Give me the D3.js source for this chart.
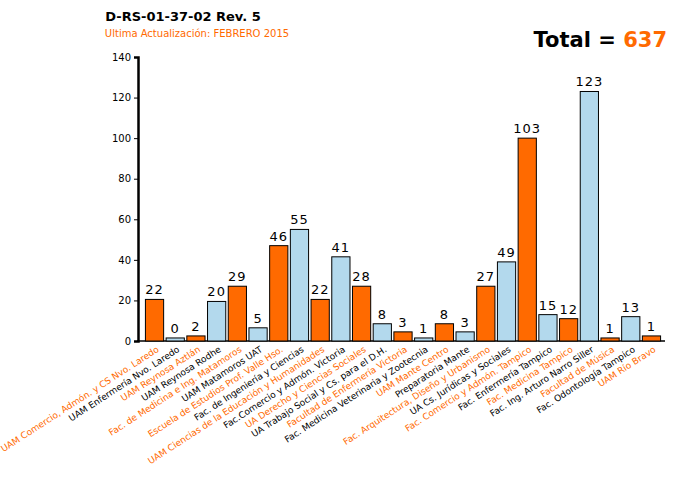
<!DOCTYPE html>
<html><head><meta charset="utf-8">
<script src="https://cdn.jsdelivr.net/npm/d3@7"></script>
<style>body{margin:0;background:#fff;font-family:"DejaVu Sans",sans-serif}</style>
</head><body><svg id="c" width="697" height="491"></svg>
<script>
var categories = ["UAM Comercio, Admón. y CS Nvo. Laredo","UAM Enfermería Nvo. Laredo","UAM Reynosa Aztlán","UAM Reynosa Rodhe","Fac. de Medicina e Ing. Matamoros","UAM Matamoros UAT","Escuela de Estudios Prof. Valle Hso.","Fac. de Ingeniería y Ciencias","UAM Ciencias de la Educación y Humanidades","Fac.Comercio y Admón. Victoria","UA Derecho y Ciencias Sociales","UA Trabajo Social y Cs. para el D.H.","Facultad de Enfermería Victoria","Fac. Medicina Veterinaria y Zootecnia","UAM Mante Centro","Preparatoria Mante","Fac. Arquitectura, Diseño y Urbanismo","UA Cs. Jurídicas y Sociales","Fac. Comercio y Admón. Tampico","Fac. Enfermería Tampico","Fac. Medicina Tampico","Fac. Ing. Arturo Narro Siller","Facultad de Música","Fac. Odontología Tampico","UAM Río Bravo"];
var barValues = [20.5,1.5,2.5,19.5,27,6.5,47,55,20.5,41.5,27,8.5,4.5,1.5,8.5,4.5,27,39,100,13,11,123,1.5,12,2.5];
var labelValues = [22,0,2,20,29,5,46,55,22,41,28,8,3,1,8,3,27,49,103,15,12,123,1,13,1];
var yTicks = [0,20,40,60,80,100,120,140];
var orange = "#ff6a00", blue = "#b3d9ed";

var svg = d3.select("#c");
var x = d3.scaleBand().domain(categories).range([145,661]).paddingInner(0.12).paddingOuter(0.02);
var y = d3.scaleLinear().domain([0,140]).range([341,57]);

svg.append("text").attr("x",183).attr("y",21).attr("text-anchor","middle")
  .style("font-size","13px").style("font-weight","bold").text("D-RS-01-37-02 Rev. 5");
svg.append("text").attr("x",197).attr("y",37).attr("text-anchor","middle")
  .style("font-size","10px").style("fill",orange).text("Ultima Actualización: FEBRERO 2015");
var t = svg.append("text").attr("x",667).attr("y",47).attr("text-anchor","end")
  .style("font-size","21px").style("font-weight","bold");
t.append("tspan").text("Total = ");
t.append("tspan").style("fill",orange).text("637");

var ya = svg.append("g").attr("transform","translate(138,0)")
  .call(d3.axisLeft(y).tickValues(yTicks).tickSize(4).tickFormat(d3.format("d")));
ya.select(".domain").attr("stroke","#000").attr("stroke-width",2.5);
ya.selectAll("text").style("font-size","10px").style("font-family","DejaVu Sans");

svg.append("line").attr("x1",137).attr("x2",665).attr("y1",y(0)).attr("y2",y(0))
  .attr("stroke","#000").attr("stroke-width",1.5);

svg.selectAll("rect.bar").data(categories).enter().append("rect")
  .attr("x",function(d){return x(d)}).attr("width",x.bandwidth())
  .attr("y",function(d,i){return y(barValues[i])})
  .attr("height",function(d,i){return y(0)-y(barValues[i])})
  .attr("fill",function(d,i){return i%2?blue:orange})
  .attr("stroke","#000").attr("stroke-width",1);

svg.selectAll("text.val").data(categories).enter().append("text")
  .attr("x",function(d){return x(d)+x.bandwidth()/2})
  .attr("y",function(d,i){return y(barValues[i])-5})
  .attr("text-anchor","middle").style("font-size","13px").style("letter-spacing","1px")
  .text(function(d,i){return labelValues[i]});

svg.selectAll("text.cat").data(categories).enter().append("text")
  .attr("transform",function(d){return "translate("+(x(d)+x.bandwidth()/2+5)+",351) rotate(-33)"})
  .attr("text-anchor","end").style("font-size","9px")
  .style("fill",function(d,i){return i%2?"#000":orange})
  .text(function(d){return d});
</script></body></html>
